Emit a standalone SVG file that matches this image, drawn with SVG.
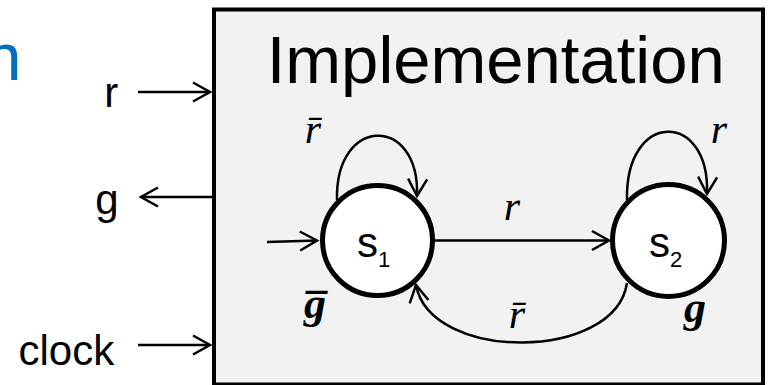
<svg xmlns="http://www.w3.org/2000/svg" width="771" height="385" viewBox="0 0 771 385">
<style>
.lbl{font-family:"Liberation Sans",Arial,sans-serif;fill:#000}
.math{font-family:"Liberation Serif","Times New Roman",serif;font-style:italic;fill:#000}
.mb{font-weight:bold}
.edge{fill:none;stroke:#000;stroke-width:2.5}
.state{fill:#fff;stroke:#000;stroke-width:5}
</style>
<defs>
<marker id="arr" markerUnits="userSpaceOnUse" markerWidth="24" markerHeight="24" viewBox="-20 -12 24 24" refX="0" refY="0" orient="auto" overflow="visible">
<path d="M-17,-9.5 L0,0 L-17,9.5" fill="none" stroke="#000" stroke-width="2.5" stroke-linejoin="miter"/>
</marker>
</defs>
<rect width="771" height="385" fill="#fff"/>
<text class="lbl" x="21.4" y="80" font-size="67" text-anchor="end" style="fill:#0070c0">n</text>
<g id="implementation">
<rect x="214" y="9.5" width="549" height="375" fill="#f2f2f2" stroke="#000" stroke-width="4"/>
<text class="lbl" x="266.7" y="83" font-size="67">Implementation</text>
</g>
<g id="port-r"><text class="lbl" x="104.2" y="107" font-size="42">r</text></g>
<g id="port-g"><text class="lbl" x="95.3" y="214" font-size="42">g</text></g>
<g id="port-clock"><text class="lbl" x="18.5" y="365" font-size="42">clock</text></g>
<g id="s1">
<circle class="state" cx="377.5" cy="240.5" r="55"/>
<text class="lbl" x="357" y="257" font-size="42">s<tspan font-size="22" dy="10">1</tspan></text>
<text class="math mb" x="315" y="318" font-size="44" text-anchor="middle">g̅</text>
</g>
<g id="s2">
<circle class="state" cx="668.5" cy="240.5" r="56"/>
<text class="lbl" x="649" y="257" font-size="42">s<tspan font-size="22" dy="10">2</tspan></text>
<text class="math mb" x="695" y="322" font-size="44" text-anchor="middle">g</text>
</g>
<g id="connectors">
<path class="edge" d="M138,92 L210,92" marker-end="url(#arr)"/>
<path class="edge" d="M212,197 L141,197" marker-end="url(#arr)"/>
<path class="edge" d="M138,345 L210,345" marker-end="url(#arr)"/>
<path class="edge" d="M267,242 L317,240.5" marker-end="url(#arr)"/>
<path class="edge" d="M435,240.5 L609,240.5" marker-end="url(#arr)"/>
<path class="edge" d="M337,200 C335,115 420,115 417,196" marker-end="url(#arr)"/>
<path class="edge" d="M627,200 C625,110 710,110 707,194" marker-end="url(#arr)"/>
<path class="edge" d="M627,283 C615,362 430,362 416,285" marker-end="url(#arr)"/>
<text class="math" x="313" y="143" font-size="42" text-anchor="middle">r̄</text>
<text class="math" x="719" y="143" font-size="42" text-anchor="middle">r</text>
<text class="math" x="512" y="220" font-size="42" text-anchor="middle">r</text>
<text class="math" x="517" y="328" font-size="42" text-anchor="middle">r̄</text>
</g>
</svg>
